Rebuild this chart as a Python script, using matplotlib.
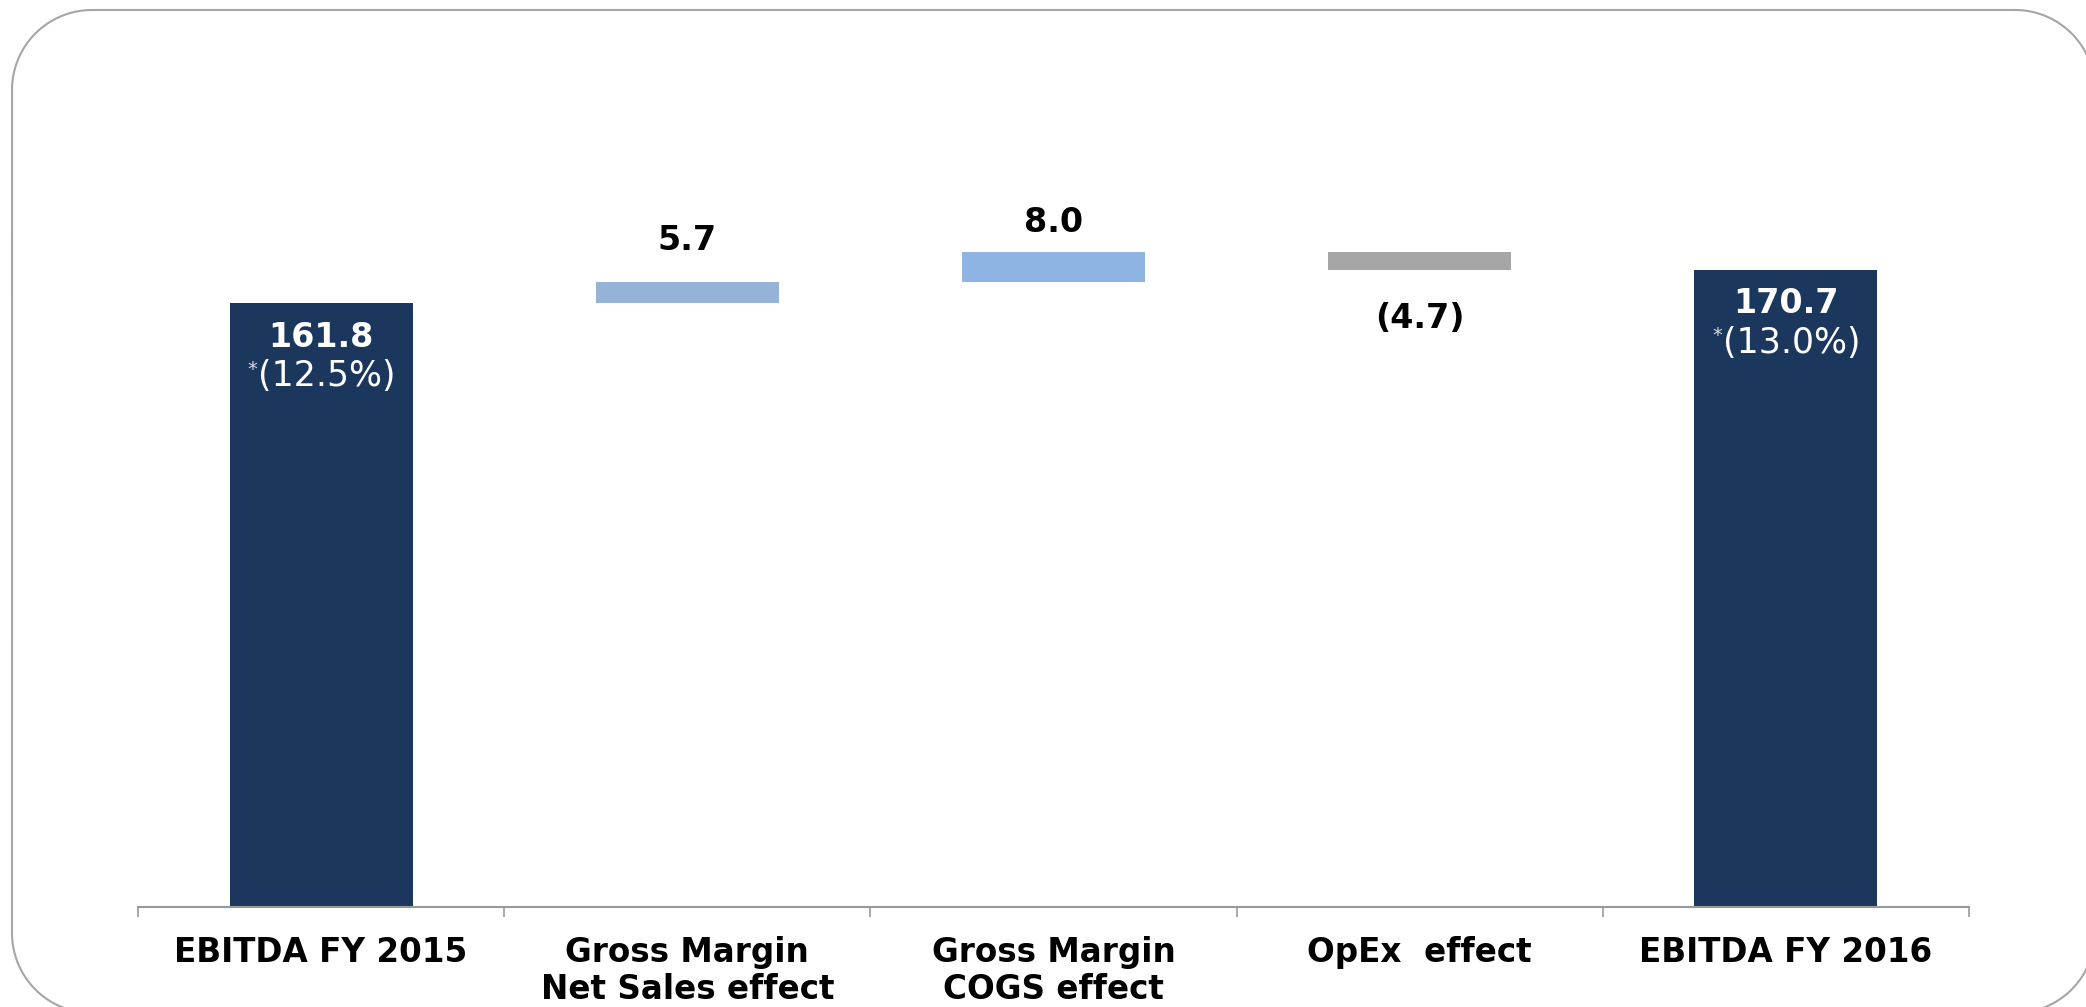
import numpy as np
import matplotlib
matplotlib.use("Agg")
import matplotlib.pyplot as plt

# ==========================
# Data (EUR m)
# ==========================
categories = ["EBITDA FY 2015", "Gross Margin\nNet Sales effect",
              "Gross Margin\nCOGS effect", "OpEx  effect", "EBITDA FY 2016"]
start_total = 161.8
effects = [5.7, 8.0, -4.7]
end_total = 170.7
margins = ["(12.5%)", "(13.0%)"]

# colours
navy = "#1B375E"
effect_colors = ["#95B3D7", "#8EB4E3", "#A6A6A6"]

# ==========================
# Waterfall geometry
# ==========================
bottoms = [0.0]
heights = [start_total]
running = start_total
for e in effects:
    if e >= 0:
        bottoms.append(running)
        heights.append(e)
    else:
        bottoms.append(running + e)
        heights.append(-e)
    running += e
bottoms.append(0.0)
heights.append(end_total)

colors = [navy] + effect_colors + [navy]
x = np.arange(len(categories))

W, H = 2086, 1007
fig = plt.figure(figsize=(W / 100, H / 100), dpi=100)


def rounded_rect(left, top, right, bottom, r, n=40):
    """Outline of a rounded rectangle as a polyline (pixel coords, y down)."""
    pts = []
    corners = [(right - r, top + r, -90, 0), (right - r, bottom - r, 0, 90),
               (left + r, bottom - r, 90, 180), (left + r, top + r, 180, 270)]
    for cx, cy, a0, a1 in corners:
        t = np.radians(np.linspace(a0, a1, n))
        pts.append(np.column_stack([cx + r * np.cos(t), cy + r * np.sin(t)]))
    pts = np.vstack(pts)
    return np.vstack([pts, pts[:1]])


# slide frame on a pixel-space background axes
bg = fig.add_axes([0, 0, 1, 1])
bg.set_xlim(0, W)
bg.set_ylim(H, 0)
bg.axis("off")
outline = rounded_rect(12, 10, 2095, 1013, 80)
bg.plot(outline[:, 0], outline[:, 1], color="#A6A6A6", lw=1.5,
        solid_joinstyle="round")

ax = fig.add_axes([138 / W, 100 / H, 1831 / W, 821 / H])
ax.patch.set_visible(False)

ax.bar(x, heights, bottom=bottoms, width=0.5, color=colors, zorder=2)

ax.set_xlim(-0.5, len(categories) - 0.5)
ax.set_ylim(0, 220)

# ==========================
# Value labels
# ==========================
bold = dict(fontsize=24, fontweight="bold", ha="center", va="center")

# totals: value and margin inside the bar
for i, (val, m) in zip([0, len(categories) - 1], zip([start_total, end_total], margins)):
    ax.annotate(f"{val:.1f}", (x[i], val), xytext=(0, -34),
                textcoords="offset pixels", color="white", **bold)
    ax.annotate(m, (x[i], val), xytext=(6, -73), textcoords="offset pixels",
                color="white", fontsize=25, ha="center", va="center")
    ax.annotate("*", (x[i], val), xytext=(-69, -66), textcoords="offset pixels",
                color="#D9D9D9", fontsize=14, ha="center", va="center")

# effects: above rising bars, below falling bars
effect_offsets = [41, 30, -49]
for k, e in enumerate(effects):
    i = k + 1
    if e >= 0:
        ref = bottoms[i] + heights[i]
        txt = f"{e:.1f}"
    else:
        ref = bottoms[i]
        txt = f"({-e:.1f})"
    ax.annotate(txt, (x[i], ref), xytext=(0, effect_offsets[k]),
                textcoords="offset pixels", color="black", **bold)

# ==========================
# Axes styling
# ==========================
for s in ["top", "right", "left"]:
    ax.spines[s].set_visible(False)
ax.spines["bottom"].set_color("#999999")
ax.spines["bottom"].set_linewidth(1.5)
ax.set_yticks([])

ax.set_xticks(np.arange(-0.5, len(categories)), minor=False)
ax.set_xticklabels([])
ax.tick_params(axis="x", which="major", direction="out", length=7.5,
               width=1.2, color="#999999")
ax.set_xticks(x, minor=True)
ax.set_xticklabels(categories, minor=True, fontsize=23.5, fontweight="bold",
                   va="top", linespacing=1.15)
ax.tick_params(axis="x", which="minor", length=0, pad=21)

plt.savefig("out.png", dpi=100)
